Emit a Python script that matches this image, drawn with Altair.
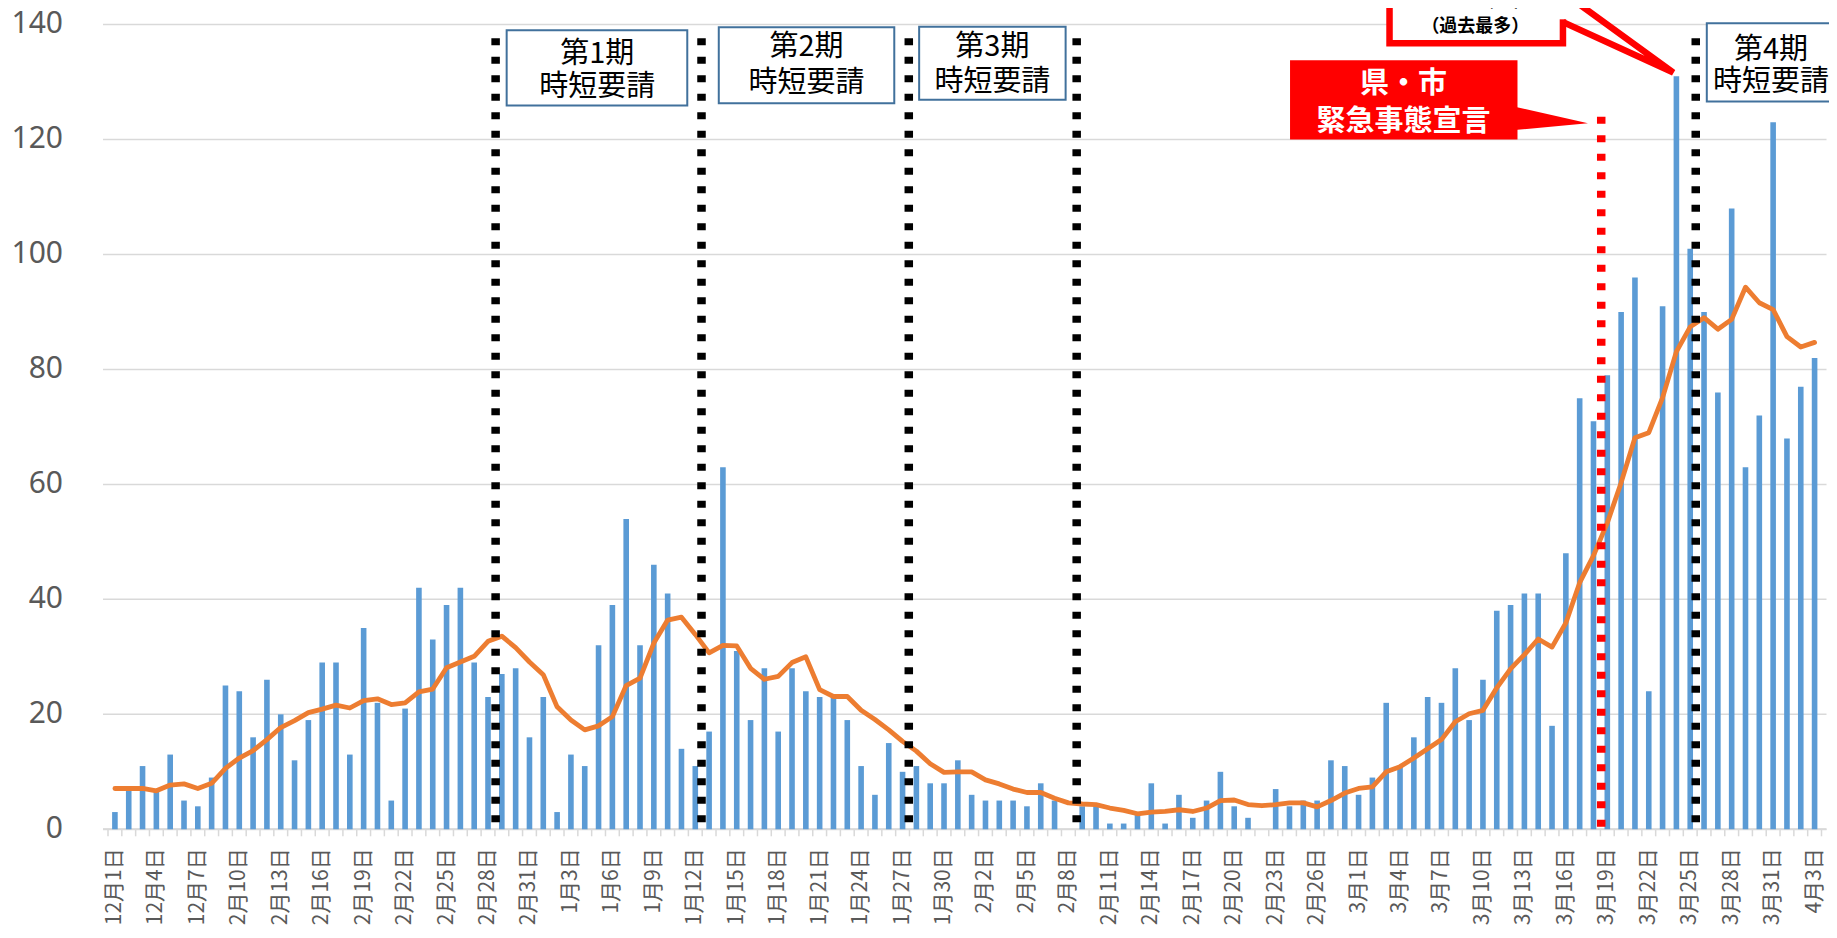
import altair as alt
import pandas as pd

# ---------------- data ----------------
dates = pd.date_range("2020-12-01", "2021-04-03", freq="D")
day_labels = [f"{d.month}月{d.day}日" for d in dates]

cases_dec = [3, 7, 11, 7, 13, 5, 4, 9, 25, 24, 16, 26, 20, 12, 19, 29, 29, 13, 35, 22,
             5, 21, 42, 33, 39, 42, 29, 23, 27, 28, 16]
cases_jan = [23, 3, 13, 11, 32, 39, 54, 32, 46, 41, 14, 11, 17, 63, 31, 19, 28, 17, 28, 24,
             23, 23, 19, 11, 6, 15, 10, 11, 8, 8, 12]
cases_feb = [6, 5, 5, 5, 4, 8, 5, 0, 4, 4, 1, 1, 3, 8, 1, 6, 2, 5, 10, 4,
             2, 0, 7, 4, 5, 5, 12, 11]
cases_mar = [6, 9, 22, 11, 16, 23, 22, 28, 19, 26, 38, 39, 41, 41, 18, 48, 75, 71, 79, 90,
             96, 24, 91, 131, 101, 90, 76, 108, 63, 72, 123]
cases_apr = [68, 77, 82]

ma_dec = [7.1, 7.1, 7.1, 6.7, 7.7, 7.9, 7.1, 8.0, 10.6, 12.4, 13.7, 15.6, 17.7, 18.9, 20.3,
          20.9, 21.6, 21.1, 22.4, 22.7, 21.7, 22.0, 23.9, 24.4, 28.1, 29.1, 30.1, 32.7, 33.6,
          31.6, 29.1]
ma_jan = [26.9, 21.3, 19.0, 17.3, 18.0, 19.6, 25.0, 26.3, 32.4, 36.4, 36.9, 33.9, 30.7, 32.0,
          31.9, 28.0, 26.1, 26.6, 29.0, 30.0, 24.3, 23.1, 23.1, 20.7, 19.1, 17.3, 15.3, 13.6,
          11.4, 9.9, 10.0]
ma_feb = [10.0, 8.6, 7.9, 7.0, 6.4, 6.4, 5.4, 4.6, 4.4, 4.3, 3.7, 3.3, 2.7, 3.0, 3.1, 3.4,
          3.1, 3.7, 5.0, 5.1, 4.3, 4.1, 4.3, 4.6, 4.6, 3.9, 5.0, 6.3]
ma_mar = [7.1, 7.4, 10.0, 10.9, 12.4, 14.0, 15.6, 18.7, 20.1, 20.7, 24.6, 27.9, 30.4, 33.1,
          31.7, 35.9, 42.9, 47.6, 53.3, 60.3, 68.1, 69.0, 75.1, 83.1, 87.4, 89.0, 87.0, 88.7,
          94.3, 91.6, 90.4]
ma_apr = [85.7, 83.9, 84.7]

cases = cases_dec + cases_jan + cases_feb + cases_mar + cases_apr
ma7 = ma_dec + ma_jan + ma_feb + ma_mar + ma_apr

tick_idx = list(range(0, len(day_labels), 3))
tick_labels = [day_labels[i] for i in tick_idx]
y_ticks = [0, 20, 40, 60, 80, 100, 120, 140]

df = pd.DataFrame({"i": list(range(len(cases))), "cases": cases, "ma": ma7})

# ---------------- annotations (in data units: day index / value) ----------------
period_lines_x = [27.55, 42.45, 57.45, 69.6, 114.4]
period_line_top = 137.6
decl_line_x = 107.56
decl_line_top = 123.95

box_x1 = [28.35, 43.7, 58.2, 115.2]
box_x2 = [41.42, 56.4, 68.8, 124.4]
box_top = [139.0, 139.5, 139.6, 140.2]
box_bot = [125.9, 126.3, 126.9, 126.6]
box_tx = [34.9, 50.05, 63.5, 119.85]
box_ty1 = [134.95, 136.0, 136.0, 135.55]
box_ty2 = [129.2, 129.9, 130.05, 130.05]
box_line1 = ["第1期", "第2期", "第3期", "第4期"]
box_line2 = ["時短要請", "時短要請", "時短要請", "時短要請"]

# ---------------- layout ----------------
W, H = 1723.5, 804.8
FONT = "Noto Sans CJK JP"
GRID = "#D9D9D9"
LABEL = "#595959"
xscale = alt.Scale(domain=[-0.5, len(cases) - 0.5], nice=False, zero=False)
yscale = alt.Scale(domain=[0, 140], nice=False, zero=False)


def X(field):
    return alt.X(field, scale=xscale, axis=None)


def Y(field):
    return alt.Y(field, scale=yscale, axis=None)


# gridlines and value labels (y)
ygrid_df = pd.DataFrame({"v": y_ticks, "t": [str(v) for v in y_ticks]})
ygrid = alt.Chart(ygrid_df).mark_rule(color=GRID, strokeWidth=1.5).encode(
    y=Y("v:Q"), x=alt.value(0), x2=alt.value(W))
ylabels = alt.Chart(ygrid_df).mark_text(font="Noto Sans", fontSize=30, color=LABEL,
                                        align="right", baseline="middle").encode(
    y=Y("v:Q"), x=alt.value(-40), text="t:N")

# category axis line, tick marks and date labels (x)
xdomain = alt.Chart(pd.DataFrame({"v": [0]})).mark_rule(color=GRID, strokeWidth=2).encode(
    y=Y("v:Q"), x=alt.value(0), x2=alt.value(W))
tick_df = pd.DataFrame({"b": [i - 0.5 for i in range(len(cases) + 1)]})
xticks = alt.Chart(tick_df).mark_rule(color=GRID, strokeWidth=1.5).encode(
    x=X("b:Q"), y=alt.value(H), y2=alt.value(H + 7))
xlab_df = pd.DataFrame({"i": tick_idx, "t": tick_labels})
xlabels = alt.Chart(xlab_df).mark_text(font=FONT, fontSize=21, color=LABEL, angle=270,
                                       align="right", baseline="middle").encode(
    x=X("i:Q"), y=alt.value(H + 19), text="t:N")

bars = alt.Chart(df).mark_bar(size=5.6, color="#5B9BD5").encode(x=X("i:Q"), y=Y("cases:Q"))
ma_line = alt.Chart(df).mark_line(color="#ED7D31", strokeWidth=4.8, strokeJoin="round",
                                  strokeCap="round").encode(x=X("i:Q"), y=Y("ma:Q"))

rules_df = pd.DataFrame({
    "x": period_lines_x + [decl_line_x],
    "top": [period_line_top] * len(period_lines_x) + [decl_line_top],
    "bot": [0] * (len(period_lines_x) + 1),
    "c": ["#000000"] * len(period_lines_x) + ["#FF0000"],
})
rules = alt.Chart(rules_df).mark_rule(strokeWidth=8.5, strokeDash=[7, 11.5]).encode(
    x=X("x:Q"), y=Y("top:Q"), y2="bot:Q", color=alt.Color("c:N", scale=None))

box_df = pd.DataFrame({"x1": box_x1, "x2": box_x2, "y1": box_top, "y2": box_bot})
boxes = alt.Chart(box_df).mark_rect(fill="white", stroke="#41719C", strokeWidth=2).encode(
    x=X("x1:Q"), x2="x2:Q", y=Y("y1:Q"), y2="y2:Q")

box_text_df = pd.DataFrame({"x": box_tx + box_tx, "y": box_ty1 + box_ty2,
                            "t": box_line1 + box_line2})
box_texts = alt.Chart(box_text_df).mark_text(font=FONT, fontSize=29, color="#000000",
                                             baseline="middle").encode(
    x=X("x:Q"), y=Y("y:Q"), text="t:N")

# red callout: 県・市 緊急事態宣言
red_rect = alt.Chart(pd.DataFrame({"x1": [85.04], "x2": [101.5], "y1": [133.8],
                                   "y2": [120.0]})).mark_rect(fill="#FF0000").encode(
    x=X("x1:Q"), x2="x2:Q", y=Y("y1:Q"), y2="y2:Q")
red_ptr = alt.Chart(pd.DataFrame({"x": [101.3, 106.6], "y": [125.7, 122.8],
                                  "y2": [121.64, 122.8]})).mark_area(color="#FF0000").encode(
    x=X("x:Q"), y=Y("y:Q"), y2="y2:Q")
red_text = alt.Chart(pd.DataFrame({"x": [93.25, 93.25], "y": [129.6, 123.1],
                                   "t": ["県・市", "緊急事態宣言"]})).mark_text(
    font=FONT, fontSize=29, fontWeight="bold", color="#FFFFFF", baseline="middle").encode(
    x=X("x:Q"), y=Y("y:Q"), text="t:N")

# record callout: 131人（過去最多）
rec_box = alt.Chart(pd.DataFrame({"x1": [92.24], "x2": [104.79], "y1": [151.2],
                                  "y2": [136.72]})).mark_rect(
    fill="white", stroke="#FF0000", strokeWidth=6.5).encode(
    x=X("x1:Q"), x2="x2:Q", y=Y("y1:Q"), y2="y2:Q")
rec_cover = alt.Chart(pd.DataFrame({"x1": [104.4], "x2": [105.3], "y1": [151.2],
                                    "y2": [140.9]})).mark_rect(fill="white").encode(
    x=X("x1:Q"), x2="x2:Q", y=Y("y1:Q"), y2="y2:Q")
rec_wedge = alt.Chart(pd.DataFrame({"x": [105.05, 112.78, 104.8],
                                    "y": [145.12, 131.64, 140.42],
                                    "o": [0, 1, 2]})).mark_line(
    color="#FF0000", strokeWidth=6.5, strokeJoin="miter").encode(
    x=X("x:Q"), y=Y("y:Q"), order="o:Q")
rec_text_small = alt.Chart(pd.DataFrame({"x": [98.45], "y": [139.6],
                                         "t": ["（過去最多）"]})).mark_text(
    font=FONT, fontSize=18, fontWeight="bold", color="#000000", baseline="middle").encode(
    x=X("x:Q"), y=Y("y:Q"), text="t:N")
rec_text_big = alt.Chart(pd.DataFrame({"x": [98.45], "y": [143.3],
                                       "t": ["131人"]})).mark_text(
    font=FONT, fontSize=32, fontWeight="bold", color="#000000",
    baseline="alphabetic").encode(
    x=X("x:Q"), y=Y("y:Q"), text="t:N")

chart = alt.layer(
    ygrid, xdomain, xticks, ylabels, xlabels,
    bars, ma_line, rules, boxes, box_texts,
    red_ptr, red_rect, red_text,
    rec_box, rec_cover, rec_wedge, rec_text_small, rec_text_big,
).properties(
    width=W, height=H,
    background="white",
    autosize=alt.AutoSizeParams(type="none"),
    padding={"left": 95, "top": 16.5, "right": 2, "bottom": 96},
).configure_view(stroke=None)

chart.save("out.html", embed_options={"renderer": "svg", "actions": False})
